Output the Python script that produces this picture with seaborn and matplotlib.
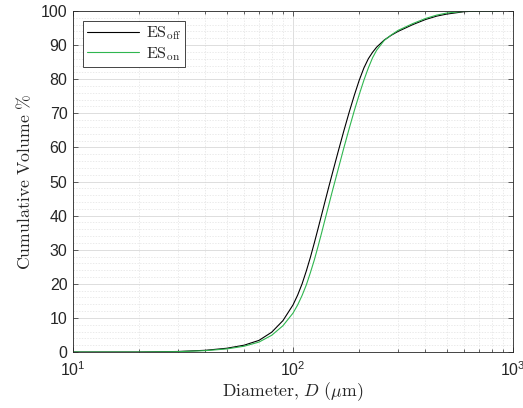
import numpy as np
import pandas as pd
import matplotlib
matplotlib.use("Agg")
import matplotlib.pyplot as plt
import matplotlib.ticker as mticker
import seaborn as sns

# ---- data ----
diameter_um = [10, 20, 30, 40, 50, 60, 70, 80, 90, 100, 105, 110, 115, 120, 125, 130,
               135, 140, 145, 150, 160, 170, 180, 190, 200, 210, 220, 230, 240, 260, 280,
               300, 350, 400, 450, 500, 600, 700, 870]
es_off = [0.0, 0.0, 0.15, 0.5, 1.1, 2.0, 3.4, 5.8, 9.2, 13.8, 16.7, 20.0, 23.8, 27.8, 32.0, 36.2,
          40.3, 44.3, 48.1, 51.7, 58.5, 64.7, 70.3, 75.3, 79.7, 83.3, 86.0, 87.9, 89.4, 91.5, 92.9,
          94.0, 96.0, 97.5, 98.5, 99.1, 99.8, 100.0, 100.0]
es_on = [0.0, 0.0, 0.1, 0.4, 0.9, 1.7, 2.9, 4.9, 7.7, 11.4, 13.8, 16.6, 19.7, 23.3, 27.0, 31.0,
         35.0, 39.0, 42.8, 46.5, 53.3, 59.7, 65.5, 70.8, 75.5, 79.7, 83.3, 86.3, 88.5, 91.4, 93.0,
         94.3, 96.3, 97.8, 98.8, 99.4, 99.9, 100.0, 100.0]
series_names = [r"$\mathrm{ES_{off}}$", r"$\mathrm{ES_{on}}$"]
series_colors = ["#000000", "#2fb64f"]
xtick_values = [10, 100, 1000]
ytick_values = list(range(0, 101, 10))

df = pd.concat([
    pd.DataFrame({"D": diameter_um, "V": es_off, "series": series_names[0]}),
    pd.DataFrame({"D": diameter_um, "V": es_on, "series": series_names[1]}),
], ignore_index=True)

sns.set_theme(style="white")
plt.rcParams["font.family"] = ["Liberation Sans", "DejaVu Sans"]
plt.rcParams["mathtext.fontset"] = "dejavusans"

fig = plt.figure(figsize=(5.23, 4.08), dpi=100)
ax = fig.add_axes([73 / 523, 1 - 352 / 408, 440 / 523, 341 / 408])

sns.lineplot(data=df, x="D", y="V", hue="series", palette=series_colors,
             hue_order=series_names, linewidth=0.8, ax=ax, sort=False,
             estimator=None)

ax.set_xscale("log")
ax.set_xlim(10, 1000)
ax.set_ylim(0, 100)
ax.set_xticks(xtick_values)
ax.xaxis.set_major_formatter(mticker.FuncFormatter(
    lambda v, p: r"$\mathdefault{10^{%d}}$" % int(round(np.log10(v)))))
ax.xaxis.set_minor_locator(mticker.LogLocator(base=10, subs=np.arange(2, 10)))
ax.xaxis.set_minor_formatter(mticker.NullFormatter())
ax.set_yticks(ytick_values)
ax.yaxis.set_minor_locator(mticker.MultipleLocator(2))

ax.grid(True, which="major", color="#d8d8d8", linewidth=0.6, linestyle="-")
ax.grid(True, which="minor", color="#e2e2e2", linewidth=0.5, linestyle=(0, (2, 2)))
ax.set_axisbelow(True)

for s in ax.spines.values():
    s.set_color("#262626")
    s.set_linewidth(0.6)
    s.set_visible(True)

ax.tick_params(which="major", direction="in", length=3.5, width=0.5, colors="#262626",
               top=True, right=True, bottom=True, left=True, labelsize=11.5, pad=4)
ax.tick_params(axis="x", which="minor", direction="in", length=2, width=0.5,
               colors="#262626", top=True, bottom=True)
ax.tick_params(axis="y", which="minor", length=0, left=False, right=False)
ax.tick_params(axis="x", which="major", pad=6)

ax.set_xlabel(r"$\mathrm{Diameter{,}}\ D\ (\mu\mathrm{m})$", fontsize=12.8,
              math_fontfamily="cm", labelpad=1)
ax.set_ylabel(r"$\mathrm{Cumulative\ Volume\ \%}$", fontsize=12.8,
              math_fontfamily="cm", labelpad=5)

leg = ax.legend(loc="upper left", frameon=True, fancybox=False, framealpha=1,
                edgecolor="#262626", handlelength=3.3,
                borderaxespad=0.6, borderpad=0.25, labelspacing=0.15, handletextpad=0.4,
                prop={"math_fontfamily": "cm", "size": 11.5})
leg.get_frame().set_linewidth(0.6)
for line in leg.get_lines():
    line.set_linewidth(0.8)

fig.savefig("out.png", dpi=100)
